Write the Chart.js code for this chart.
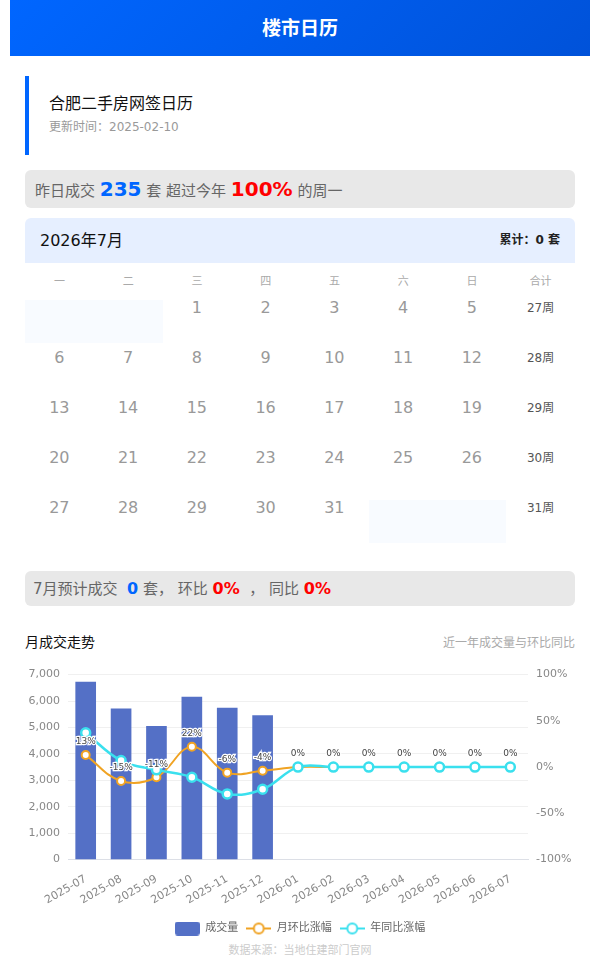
<!DOCTYPE html>
<html>
<head>
<meta charset="utf-8">
<script src="https://cdn.jsdelivr.net/npm/chart.js@4.4.1/dist/chart.umd.min.js"></script>
<style>
  body { margin: 0; background: #fff; font-family: "DejaVu Sans", "Noto Sans CJK SC", sans-serif; }
  .wrap { width: 580px; margin: 0 10px; }
  .top { height: 56px; line-height: 56px; text-align: center; color: #fff; font-size: 19px; font-weight: bold;
         background: linear-gradient(135deg, #0066ff, #0052d9); }
  .content { padding: 0 15px; }
  .card { margin-top: 20px; border-left: 4px solid #0066ff; height: 79px; box-sizing: border-box; padding: 17px 0 0 20px; }
  .card .t { font-size: 16px; line-height: 22px; color: #111; }
  .card .s { font-size: 12px; line-height: 16px; color: #999; margin-top: 4px; }
  .bar { background: #e8e8e8; border-radius: 6px; height: 38px; line-height: 38px; padding-left: 10px; font-size: 15px; color: #666; }
  .blue { color: #0066ff; font-weight: bold; font-size: 20px; }
  .red { color: #ff0000; font-weight: bold; font-size: 20px; }
  .bar2 { background: #e8e8e8; border-radius: 6px; height: 35px; line-height: 35px; padding-left: 8px; font-size: 15px; color: #666; margin-top: 25px; }
  .bar2 .blue, .bar2 .red { font-size: 16px; }
  .cal-head { margin-top: 10px; height: 45px; line-height: 45px; background: #e6efff; border-radius: 6px 6px 0 0;
              padding: 0 15px; display: flex; justify-content: space-between; }
  .cal-head .m { font-size: 16px; color: #111; }
  .cal-head .sum { font-size: 12px; color: #222; font-weight: bold; }
  .grid { display: grid; grid-template-columns: repeat(8, 68.75px); }
  .wk { height: 33px; line-height: 38px; text-align: center; font-size: 11px; color: #aaa; }
  .cell { height: 50px; text-align: center; font-size: 16px; color: #999; line-height: 24px; position: relative; }
  .cell.w { font-size: 12px; color: #555; }
  .cell.e::before { content: ""; position: absolute; left: 0; right: 0; top: 4px; height: 43px; background: #f8fbff; }
  .sec { margin-top: 24px; display: flex; justify-content: space-between; align-items: center; height: 22px; }
  .sec .a { font-size: 14px; color: #111; }
  .sec .b { font-size: 12px; color: #aaa; }
  .chart-box { position: relative; height: 284px; width: 550px; margin-top: 8px; }
  .src { text-align: center; font-size: 11px; color: #ccc; margin-top: -3px; }
</style>
</head>
<body>
<div class="wrap">
  <div class="top">楼市日历</div>
  <div class="content">
    <div class="card">
      <div class="t">合肥二手房网签日历</div>
      <div class="s">更新时间：2025-02-10</div>
    </div>
    <div class="bar" style="margin-top:15px">昨日成交 <span class="blue">235</span> 套 超过今年 <span class="red">100%</span> 的周一</div>
    <div class="cal-head"><span class="m">2026年7月</span><span class="sum">累计：0 套</span></div>
    <div class="grid" id="cal"></div>
    <div class="bar2">7月预计成交 &nbsp;<span class="blue">0</span> 套， 环比 <span class="red">0%</span> &nbsp;， 同比 <span class="red">0%</span></div>
    <div class="sec"><span class="a">月成交走势</span><span class="b">近一年成交量与环比同比</span></div>
    <div class="chart-box"><canvas id="trend"></canvas></div>
    <div class="src">数据来源：当地住建部门官网</div>
  </div>
</div>
<script>
const weekNames = ['一', '二', '三', '四', '五', '六', '日', '合计'];
const weekLabels = ['27周', '28周', '29周', '30周', '31周'];
const firstWeekday = 2; // 7月1日是周三
const daysInMonth = 31;

const months = ['2025-07', '2025-08', '2025-09', '2025-10', '2025-11', '2025-12',
  '2026-01', '2026-02', '2026-03', '2026-04', '2026-05', '2026-06', '2026-07'];
const volume = [6720, 5700, 5040, 6150, 5730, 5450, 0, 0, 0, 0, 0, 0, 0];
const momPct = [13, -15, -11, 22, -6, -4, 0, 0, 0, 0, 0, 0, 0];
const yoyPct = [37, 7, -3, -11, -29, -24, 0, 0, 0, 0, 0, 0, 0];

// calendar
const cal = document.getElementById('cal');
weekNames.forEach(n => {
  const d = document.createElement('div');
  d.className = 'wk';
  d.innerText = n;
  cal.appendChild(d);
});
let day = 1;
for (let r = 0; r < weekLabels.length; r++) {
  for (let c = 0; c < 7; c++) {
    const d = document.createElement('div');
    d.className = 'cell';
    if ((r === 0 && c < firstWeekday) || day > daysInMonth) {
      d.classList.add('e');
    } else {
      d.innerText = day++;
    }
    cal.appendChild(d);
  }
  const w = document.createElement('div');
  w.className = 'cell w';
  w.innerText = weekLabels[r];
  cal.appendChild(w);
}

// legend icons
function barIcon(color) {
  const c = document.createElement('canvas');
  c.width = 25; c.height = 14;
  const g = c.getContext('2d');
  g.fillStyle = color;
  g.beginPath();
  g.roundRect(0, 0, 25, 14, 3);
  g.fill();
  return c;
}
function lineIcon(color) {
  const c = document.createElement('canvas');
  c.width = 25; c.height = 14;
  const g = c.getContext('2d');
  g.strokeStyle = color;
  g.lineWidth = 2;
  g.beginPath();
  g.moveTo(0, 7); g.lineTo(25, 7);
  g.stroke();
  g.fillStyle = '#fff';
  g.beginPath();
  g.arc(12.5, 7, 5, 0, Math.PI * 2);
  g.fill();
  g.stroke();
  return c;
}

const BAR = '#5470c6';
const ORANGE = '#f0a323';
const CYAN = '#3ae0ee';

const pctLabels = {
  id: 'pctLabels',
  afterDatasetsDraw(chart) {
    const meta = chart.getDatasetMeta(1);
    const ctx = chart.ctx;
    ctx.save();
    ctx.font = '9px "DejaVu Sans"';
    ctx.textAlign = 'center';
    ctx.textBaseline = 'middle';
    ctx.lineWidth = 2.5;
    ctx.strokeStyle = '#fff';
    ctx.fillStyle = '#444';
    meta.data.forEach((pt, i) => {
      const txt = momPct[i] + '%';
      ctx.strokeText(txt, pt.x, pt.y - 13);
      ctx.fillText(txt, pt.x, pt.y - 13);
    });
    ctx.restore();
  }
};

Chart.defaults.font.family = '"DejaVu Sans", "Noto Sans CJK SC", sans-serif';

new Chart(document.getElementById('trend'), {
  type: 'bar',
  data: {
    labels: months,
    datasets: [
      {
        label: '成交量',
        data: volume,
        backgroundColor: c => (c.raw ? BAR : 'rgba(0,0,0,0)'),
        barThickness: 20,
        yAxisID: 'y',
        order: 3
      },
      {
        type: 'line',
        label: '月环比涨幅',
        data: momPct,
        borderColor: ORANGE,
        borderWidth: 2,
        backgroundColor: '#fff',
        pointBackgroundColor: '#fff',
        pointBorderColor: ORANGE,
        pointBorderWidth: 2,
        pointRadius: 4,
        tension: 0.4,
        yAxisID: 'y1',
        order: 2
      },
      {
        type: 'line',
        label: '年同比涨幅',
        data: yoyPct,
        borderColor: CYAN,
        borderWidth: 2.5,
        backgroundColor: '#fff',
        pointBackgroundColor: '#fff',
        pointBorderColor: CYAN,
        pointBorderWidth: 2.5,
        pointRadius: 4.5,
        tension: 0.4,
        yAxisID: 'y1',
        order: 1
      }
    ]
  },
  options: {
    responsive: true,
    maintainAspectRatio: false,
    animation: false,
    layout: { padding: { top: 9, left: 0, right: 0, bottom: 0 } },
    scales: {
      x: {
        grid: { display: false },
        border: { display: true, color: '#dcdfe6' },
        ticks: { color: '#888', font: { size: 11 }, minRotation: 30, maxRotation: 30, padding: 5 },
        afterFit: s => { s.height += 3; }
      },
      y: {
        position: 'left',
        min: 0,
        max: 7000,
        ticks: { stepSize: 1000, color: '#888', font: { size: 11 }, padding: 8 },
        grid: { color: '#f0f0f0', drawTicks: false },
        border: { display: false },
        afterFit: s => { s.width = 43; }
      },
      y1: {
        position: 'right',
        min: -100,
        max: 100,
        ticks: { stepSize: 50, color: '#888', font: { size: 11 }, padding: 8, callback: v => v + '%' },
        grid: { display: false, drawTicks: false },
        border: { display: false },
        afterFit: s => { s.width = 47; }
      }
    },
    plugins: {
      tooltip: { enabled: false },
      legend: {
        position: 'bottom',
        labels: {
          usePointStyle: true,
          pointStyleWidth: 25,
          padding: 8,
          color: '#666',
          font: { size: 11 },
          sort: (a, b) => a.datasetIndex - b.datasetIndex,
          generateLabels(chart) {
            const icons = [barIcon(BAR), lineIcon(ORANGE), lineIcon(CYAN)];
            return chart.data.datasets.map((ds, i) => ({
              text: ds.label,
              datasetIndex: i,
              pointStyle: icons[i],
              fontColor: '#666',
              hidden: false,
              lineWidth: 0
            }));
          }
        }
      }
    }
  },
  plugins: [pctLabels]
});
</script>
</body>
</html>
